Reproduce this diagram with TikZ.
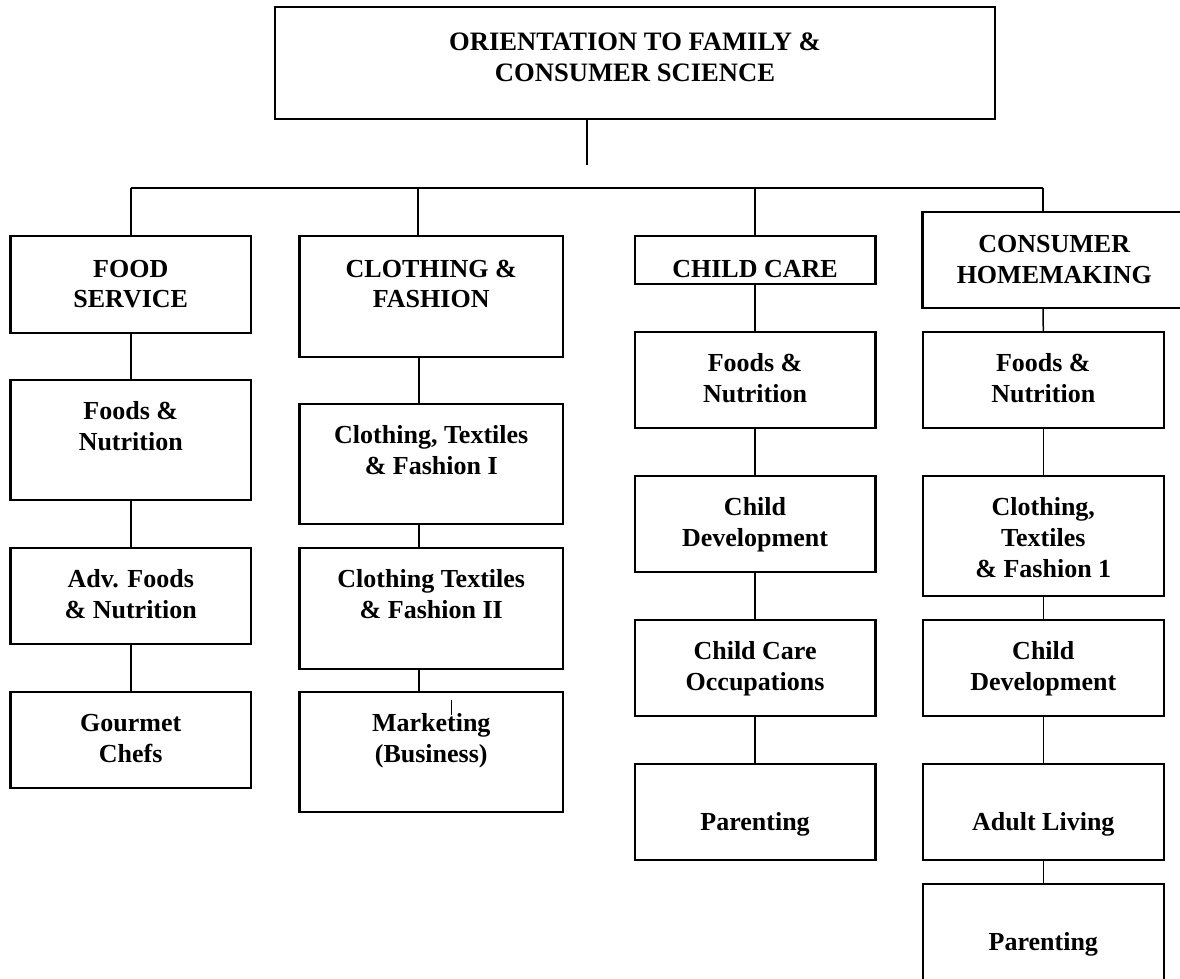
\documentclass[tikz,border=0pt]{standalone}
\usepackage{fontspec}
\setmainfont{Liberation Serif}
\tikzset{
  box/.style={draw, line width=2.2pt, rectangle, inner sep=0pt},
  lbl/.style={anchor=north, inner sep=0pt, align=center, font=\fontsize{26}{30.7}\selectfont\bfseries},
  link/.style={line width=1.5pt},
}
% #1 name, #2 x1, #3 y1, #4 x2, #5 y2, #6 text offset from top, #7 text
\newcommand\mkbox[7]{%
  \node[box, minimum width={#4-#2}, minimum height={#5-#3}] (#1) at ({(#2+#4)/2},{(#3+#5)/2}) {};
  \node[lbl] (#1-t) at ([yshift=-#6pt]#1.north) {\strut #7};
}
\begin{document}
\begin{tikzpicture}[x=1pt,y=-1pt]
\useasboundingbox (0,0) rectangle (1180,978);
% top
\mkbox{top}{275}{7}{995}{119}{23}{\fontsize{26.6}{30.7}\selectfont ORIENTATION TO FAMILY \&\\\fontsize{26.6}{30.7}\selectfont CONSUMER SCIENCE}
% level 1
\mkbox{fs}{10.5}{236}{251}{333}{20.5}{FOOD\\SERVICE}
\mkbox{cf}{299.5}{236}{563}{357}{20.5}{CLOTHING \&\\FASHION}
\mkbox{cc}{634.7}{236}{875.4}{284}{20.5}{CHILD CARE}
\mkbox{ch}{922.5}{212}{1186}{308}{20}{CONSUMER\\HOMEMAKING}
% food column
\mkbox{fs1}{10.5}{380}{251}{500}{19}{Foods \&\\Nutrition}
\mkbox{fs2}{10.5}{548}{251}{644}{19}{Adv. Foods\\\& Nutrition}
\mkbox{fs3}{10.5}{692}{251}{788}{19}{Gourmet\\Chefs}
% clothing column
\mkbox{cf1}{299.5}{404}{563}{524}{19}{Clothing, Textiles\\\& Fashion I}
\mkbox{cf2}{299.5}{548}{563}{669}{19}{Clothing Textiles\\\& Fashion II}
\mkbox{cf3}{299.5}{692}{563}{812}{19}{Marketing\\(Business)}
% child care column
\mkbox{cc1}{634.7}{332}{875.4}{428}{19}{Foods \&\\Nutrition}
\mkbox{cc2}{634.7}{476}{875.4}{572}{19}{Child\\Development}
\mkbox{cc3}{634.7}{620}{875.4}{716}{19}{Child Care\\Occupations}
\mkbox{cc4}{634.7}{764}{875.4}{860}{15}{\\Parenting}
% homemaking column
\mkbox{ch1}{923}{332}{1163.6}{428}{19}{Foods \&\\Nutrition}
\mkbox{ch2}{923}{476}{1163.6}{596}{19}{Clothing,\\Textiles\\\& Fashion 1}
\mkbox{ch3}{923}{620}{1163.6}{716}{19}{Child\\Development}
\mkbox{ch4}{923}{764}{1163.6}{860}{15}{\\Adult Living}
\mkbox{ch5}{923}{884}{1163.6}{980}{15}{\\Parenting}
% connectors
\coordinate (stem) at (587,165);
\draw[link] (top.south -| stem) -- (stem);
\coordinate (barL) at (131,188);
\coordinate (barR) at (1043,188);
\coordinate (dC) at (418,188);
\coordinate (dCC) at (755,188);
\draw[link] (barL) -- (barR);
\draw[link] (barL) -- (barL |- fs.north);
\draw[link] (dC) -- (dC |- cf.north);
\draw[link] (dCC) -- (dCC |- cc.north);
\draw[link] (barR) -- (barR |- ch.north);
% food
\draw[link] (fs.south) -- (fs1.north);
\draw[link] (fs1.south) -- (fs2.north);
\draw[link] (fs2.south) -- (fs3.north);
% clothing
\coordinate (colC) at (419,0);
\draw[link] (cf.south -| colC) -- (cf1.north -| colC);
\draw[link] (cf1.south -| colC) -- (cf2.north -| colC);
\draw[link] (cf2.south -| colC) -- (cf3.north -| colC);
% child care
\draw[link] (cc.south) -- (cc1.north);
\draw[link] (cc1.south) -- (cc2.north);
\draw[link] (cc2.south) -- (cc3.north);
\draw[link] (cc3.south) -- (cc4.north);
% homemaking
\draw[link] (ch.south -| barR) -- (ch1.north);
\draw[link] (ch1.south) -- (ch2.north);
\draw[link] (ch2.south) -- (ch3.north);
\draw[link] (ch3.south) -- (ch4.north);
\draw[link] (ch4.south) -- (ch5.north);
% stray mark in Marketing box
\coordinate (s1) at (451,700);
\coordinate (s2) at (451,715);
\draw[line width=1pt] (s1) -- (s2);
\end{tikzpicture}
\end{document}
